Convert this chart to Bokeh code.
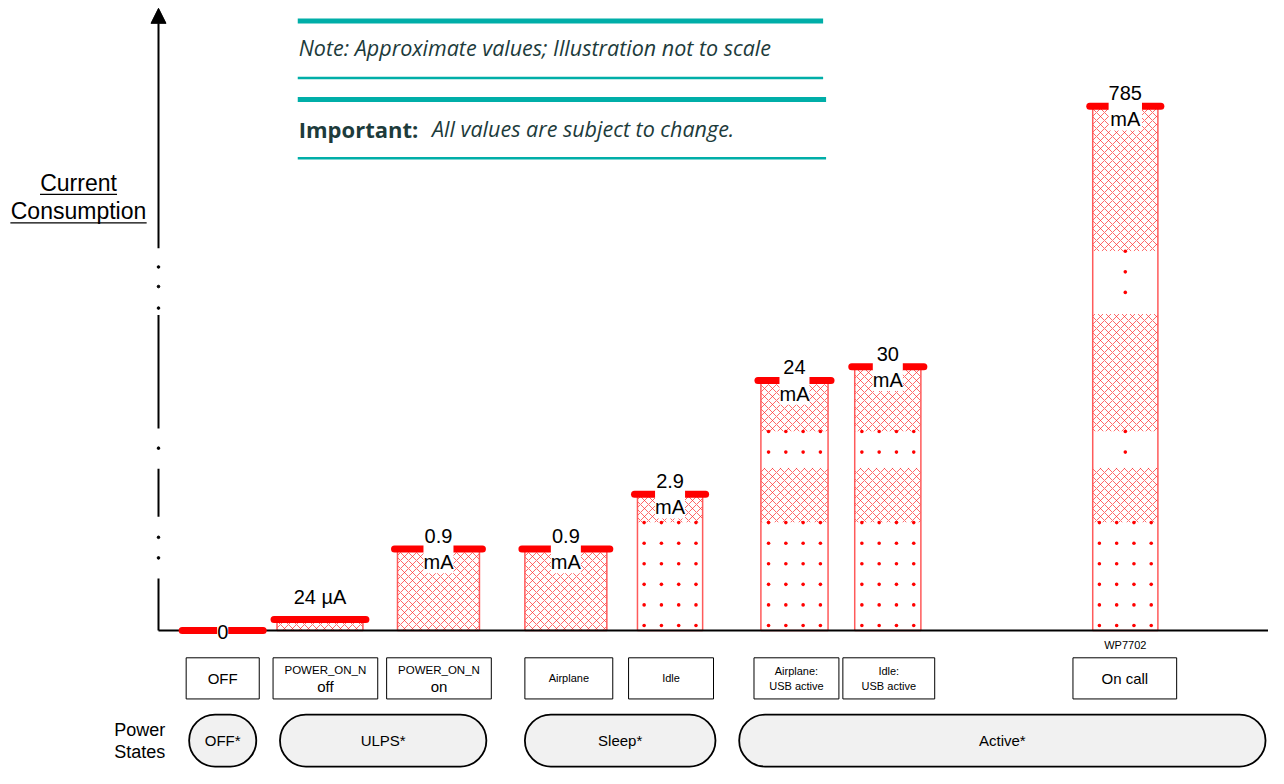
from bokeh.plotting import figure
from bokeh.models import Range1d, Arrow, NormalHead
from bokeh.core.properties import value
from bokeh.embed import file_html
from bokeh.resources import INLINE

# ---------------- data ----------------
modes = ["OFF", "POWER_ON_N off", "POWER_ON_N on", "Airplane", "Idle",
         "Airplane:\nUSB active", "Idle:\nUSB active", "On call"]
value_labels = ["0", "24 µA", "0.9\nmA", "0.9\nmA", "2.9\nmA", "24\nmA", "30\nmA", "785\nmA"]
# illustrative bar heights (not to scale)
display_height = [0, 11, 83, 83, 139, 255, 269, 535]
power_states = ["OFF*", "ULPS*", "Sleep*", "Active*"]
module_name = "WP7702"

# ---------------- layout ----------------
FONT = value("Liberation Sans")
bar_left = [187, 280, 402, 531, 645, 770, 865, 1106]
bar_right = [263, 367, 485, 614, 711, 838, 932, 1172]
label_offset = [2, 23, 0, 0, 0, 0, 0, 0]
upper_dot_cols = [4, 4, 4, 4, 4, 4, 4, 1]
box_left = [188, 276, 391, 531, 636, 763, 853, 1086]
box_right = [262, 382, 497, 620, 722, 849, 946, 1191]
box_font = ["15px", "15px", "15px", "11px", "11px", "11px", "11px", "15px"]
state_left = [191, 283, 531, 748]
state_right = [259, 492, 724, 1281]
dotted_bands = [(0, 110), (166, 203), (323, 387)]
axis_solid = [(0, 53), (116, 165), (206, 322)]
axis_dots = [74, 95, 186, 329, 351, 371]
AX_X = 160

RED = "#ff0000"
TEAL = "#00aea8"
DARK = "#1d3b3b"

p = figure(width=1268, height=768, x_range=Range1d(0, 1284), y_range=Range1d(-141, 643),
           output_backend="svg", toolbar_location=None, min_border=0, title=None)
p.axis.visible = False
p.grid.visible = False
p.outline_line_color = None
p.background_fill_color = "white"

# ---- bars ----
centers = [(l + r) / 2 for l, r in zip(bar_left, bar_right)]
h_l, h_r, h_b, h_t = [], [], [], []
d_l, d_r, d_b, d_t = [], [], [], []
dot_x, dot_y = [], []
for i, h in enumerate(display_height):
    if h <= 0:
        continue
    l, r = bar_left[i], bar_right[i]
    if h > dotted_bands[0][1]:
        cur = 0
        for bi, (b0, b1) in enumerate(dotted_bands):
            if b0 >= h:
                break
            if b0 > cur:
                h_l.append(l); h_r.append(r); h_b.append(cur); h_t.append(b0)
            top = min(b1, h)
            d_l.append(l); d_r.append(r); d_b.append(b0); d_t.append(top)
            ncol = 4 if bi == 0 else upper_dot_cols[i]
            c = centers[i]
            cols = [c - 26.25, c - 8.75, c + 8.75, c + 26.25] if ncol == 4 else [c]
            y = top
            while y >= b0 + 2:
                for xx in cols:
                    dot_x.append(xx); dot_y.append(y)
                y -= 21
            cur = top
        if cur < h:
            h_l.append(l); h_r.append(r); h_b.append(cur); h_t.append(h)
    else:
        h_l.append(l); h_r.append(r); h_b.append(0); h_t.append(h)

p.quad(left=h_l, right=h_r, bottom=h_b, top=h_t, fill_color="white", line_color=None,
       hatch_pattern="diagonal_cross", hatch_color="#ff2a2a", hatch_alpha=0.7,
       hatch_scale=8, hatch_weight=1)
p.quad(left=d_l, right=d_r, bottom=d_b, top=d_t, fill_color="white", line_color=None)
p.scatter(x=dot_x, y=dot_y, size=3.6, color=RED, line_color=None)
p.quad(left=[bar_left[i] for i in range(len(modes)) if display_height[i] > 0],
       right=[bar_right[i] for i in range(len(modes)) if display_height[i] > 0],
       bottom=0,
       top=[h for h in display_height if h > 0],
       fill_color=None, line_color="#ff5a5a", line_width=1.5)

# ---- axes ----
p.segment(x0=AX_X, y0=0, x1=1284, y1=0, line_color="black", line_width=2)
p.segment(x0=[AX_X] * len(axis_solid), y0=[a for a, b in axis_solid],
          x1=[AX_X] * len(axis_solid), y1=[b for a, b in axis_solid],
          line_color="black", line_width=2)
p.scatter(x=[AX_X] * len(axis_dots), y=axis_dots, size=2.6, color="black")
p.add_layout(Arrow(end=NormalHead(size=15, fill_color="black", line_color="black"),
                   x_start=AX_X, y_start=390, x_end=AX_X, y_end=635,
                   line_color="black", line_width=2))

# ---- caps ----
p.segment(x0=[l - 3 for l in bar_left], x1=[r + 3 for r in bar_right],
          y0=display_height, y1=display_height,
          line_color=RED, line_width=7, line_cap="round")

# ---- value labels ----
p.text(x=centers, y=[h - o if i == 0 else h + o for i, (h, o) in enumerate(zip(display_height, label_offset))],
       text=value_labels,
       text_font=FONT, text_font_size="20px", text_color="black",
       text_align="center", text_baseline="middle", text_line_height=1.2,
       background_fill_color="white", padding=0)

# ---- y label ----
p.text(x=[79, 79], y=[457, 428], text=["Current", "Consumption"], text_font=FONT,
       text_font_size="23px", text_color="black", text_align="center", text_baseline="middle")
p.segment(x0=[40, 10], x1=[118, 148], y0=[445, 416], y1=[445, 416], line_color="black", line_width=1.2)

# ---- notes ----
p.segment(x0=[301, 301, 301, 301], x1=[833, 833, 836, 836], y0=[622, 564, 542, 482],
          y1=[622, 564, 542, 482], line_color=TEAL, line_width=[5, 2.5, 5, 2.5])
p.text(x=[302], y=[595], text=["Note:  Approximate values; Illustration not to scale"],
       text_font=value("Open Sans"), text_font_style="italic", text_font_size="21.5px",
       text_color=DARK, text_baseline="middle")
p.text(x=[302], y=[512], text=["Important:"], text_font=value("Open Sans"),
       text_font_style="bold", text_font_size="22px", text_color=DARK, text_baseline="middle")
p.text(x=[437], y=[512], text=["All values are subject to change."], text_font=value("Open Sans"),
       text_font_style="italic", text_font_size="21.5px", text_color=DARK, text_baseline="middle")

# ---- mode boxes ----
p.quad(left=box_left, right=box_right, bottom=-70, top=-28, fill_color="white",
       line_color="black", line_width=1)
box_c = [(l + r) / 2 for l, r in zip(box_left, box_right)]
for i, m in enumerate(modes):
    if m.startswith("POWER_ON_N"):
        top, bottom = m.split(" ")
        p.text(x=[box_c[i]], y=[-40], text=[top], text_font=FONT, text_font_size="11.5px",
               text_color="black", text_align="center", text_baseline="middle")
        p.text(x=[box_c[i]], y=[-57], text=[bottom], text_font=FONT, text_font_size=box_font[i],
               text_color="black", text_align="center", text_baseline="middle")
    else:
        p.text(x=[box_c[i]], y=[-49], text=[m], text_font=FONT, text_font_size=box_font[i],
               text_color="black", text_align="center", text_baseline="middle",
               text_line_height=1.2)
p.text(x=[centers[-1]], y=[-15], text=[module_name], text_font=FONT, text_font_size="11px",
       text_color="black", text_align="center", text_baseline="middle")

# ---- power states ----
p.quad(left=state_left, right=state_right, bottom=-139, top=-86, fill_color="#f1f1f1",
       line_color="black", line_width=1.8, border_radius=26)
p.text(x=[(l + r) / 2 for l, r in zip(state_left, state_right)], y=-112, text=power_states,
       text_font=FONT, text_font_size="15px", text_color="black", text_align="center",
       text_baseline="middle")
p.text(x=[141, 141], y=[-102, -124], text=["Power", "States"], text_font=FONT,
       text_font_size="18px", text_color="black", text_align="center", text_baseline="middle")

open("out.html", "w").write(file_html(p, INLINE))
